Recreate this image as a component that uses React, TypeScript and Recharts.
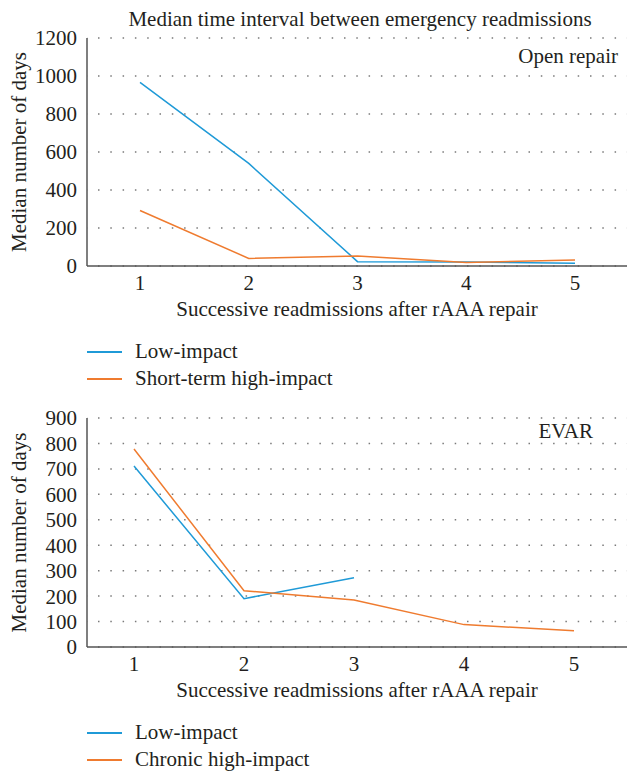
import React from 'react';
import { LineChart, Line, XAxis, YAxis, CartesianGrid, Legend, Customized } from 'recharts';

const categories = ['1', '2', '3', '4', '5'];
const openLow = [966, 540, 23, 21, 14];
const openShortHigh = [292, 40, 53, 18, 32];
const evarLow: (number | null)[] = [711, 190, 272, null, null];
const evarChronicHigh = [778, 221, 185, 88, 64];
const openTicks = [0, 200, 400, 600, 800, 1000, 1200];
const evarTicks = [0, 100, 200, 300, 400, 500, 600, 700, 800, 900];

const BLUE = '#1f9ad7';
const ORANGE = '#ef7b2f';
const FONT = '"Liberation Serif", "Times New Roman", serif';
const FS = 21;
const TEXT = '#231f20';

const openData = categories.map((c, i) => ({ cat: c, low: openLow[i], high: openShortHigh[i] }));
const evarData = categories.map((c, i) => ({ cat: c, low: evarLow[i], high: evarChronicHigh[i] }));

const makeLegend = (labels: string[]) => () => (
  <div style={{ height: 70, paddingTop: 16, boxSizing: 'border-box', fontFamily: FONT, fontSize: FS, color: TEXT }}>
    {labels.map((l, i) => (
      <div key={l} style={{ height: 27, display: 'flex', alignItems: 'center' }}>
        <div style={{ marginLeft: 87, width: 35, height: 2, background: i === 0 ? BLUE : ORANGE }} />
        <span style={{ marginLeft: 13 }}>{l}</span>
      </div>
    ))}
  </div>
);

function Panel(props: {
  data: any[];
  ticks: number[];
  max: number;
  height: number;
  top: number;
  title?: string;
  tag: string;
  tagX: number;
  tagY: number;
  legend: string[];
  xPad: { left: number; right: number };
}) {
  const { data, ticks, max, height, top, title, tag, tagX, tagY, legend, xPad } = props;
  return (
    <LineChart width={627} height={height} data={data} margin={{ top, right: 0, left: 0, bottom: 0 }}>
      <CartesianGrid vertical={false} stroke="#7a7a7a" strokeWidth={1.5} strokeDasharray="1.5 10.8" strokeDashoffset={-11} />
      <XAxis
        dataKey="cat"
        padding={xPad}
        height={56}
        tickLine={false}
        tickSize={0}
        tickMargin={9}
        stroke="#555"
        strokeWidth={1.5}
        tick={{ fill: TEXT, fontSize: FS, fontFamily: FONT }}
        label={{ value: 'Successive readmissions after rAAA repair', position: 'insideBottom', offset: 6, fill: TEXT, fontSize: FS, fontFamily: FONT }}
      />
      <YAxis
        width={87}
        domain={[0, max]}
        ticks={ticks}
        interval={0}
        tickLine={false}
        tickSize={0}
        tickMargin={10}
        stroke="#555"
        strokeWidth={1.5}
        tick={{ fill: TEXT, fontSize: FS, fontFamily: FONT }}
        label={{ value: 'Median number of days', angle: -90, position: 'center', dx: -25, fill: TEXT, fontSize: FS, fontFamily: FONT }}
      />
      <Legend verticalAlign="bottom" align="left" content={makeLegend(legend)} />
      <Line dataKey="low" stroke={BLUE} strokeWidth={1.5} dot={false} isAnimationActive={false} connectNulls={false} />
      <Line dataKey="high" stroke={ORANGE} strokeWidth={1.5} dot={false} isAnimationActive={false} />
      <Customized
        component={() => (
          <g style={{ fontFamily: FONT, fontSize: FS }} fill={TEXT}>
            {title ? (
              <text x={360} y={26} textAnchor="middle">{title}</text>
            ) : null}
            <text x={tagX} y={tagY} textAnchor="end">{tag}</text>
          </g>
        )}
      />
    </LineChart>
  );
}

export default function App() {
  return (
    <div style={{ position: 'absolute', left: 0, top: 0, width: 627, height: 773, background: '#fff' }}>
      <Panel
        data={openData}
        ticks={openTicks}
        max={1200}
        height={392}
        top={38}
        title="Median time interval between emergency readmissions"
        tag="Open repair"
        tagX={618}
        tagY={63}
        legend={['Low-impact', 'Short-term high-impact']}
        xPad={{ left: 53, right: 52 }}
      />
      <Panel
        data={evarData}
        ticks={evarTicks}
        max={900}
        height={381}
        top={26}
        tag="EVAR"
        tagX={593}
        tagY={46}
        legend={['Low-impact', 'Chronic high-impact']}
        xPad={{ left: 47, right: 53 }}
      />
    </div>
  );
}
